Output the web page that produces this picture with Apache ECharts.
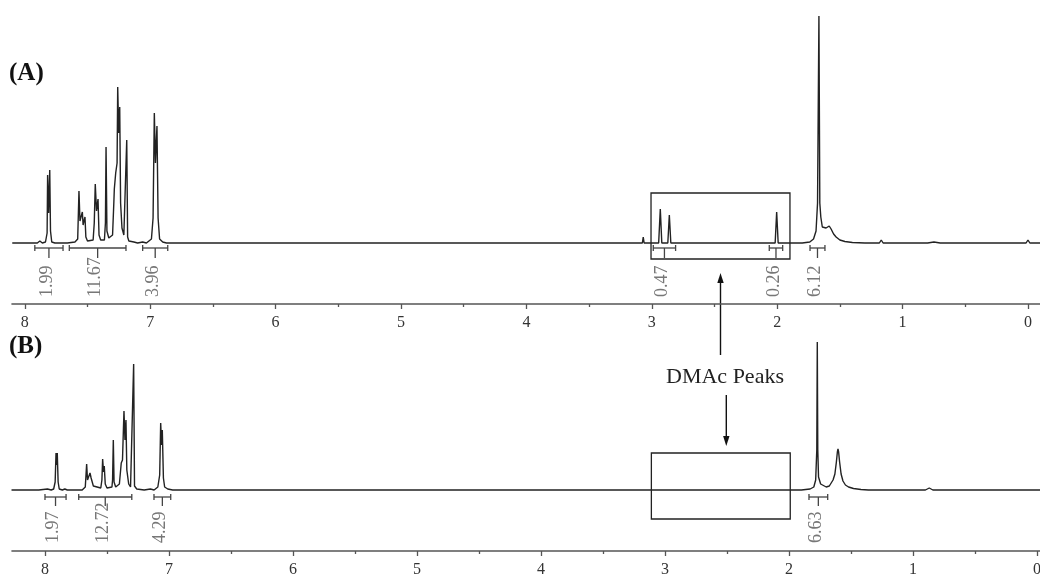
<!DOCTYPE html>
<html>
<head>
<meta charset="utf-8">
<script src="https://cdn.jsdelivr.net/npm/echarts@6/dist/echarts.min.js"></script>
<style>
  html, body { margin: 0; padding: 0; background: #fff; }
  #nmr { width: 1040px; height: 578px; }
</style>
</head>
<body>
<div id="nmr"></div>
<script>
// ppm tick values (both panels)
var majorTicks = [0, 1, 2, 3, 4, 5, 6, 7, 8];
var minorTicks = [0.5, 1.5, 2.5, 3.5, 4.5, 5.5, 6.5, 7.5];

// spectrum (A): [ppm, intensity]
var specA = [
  [8.10, 0], [7.90, 0], [7.88, 2], [7.86, 0],
  [7.835, 1], [7.822, 10], [7.818, 68], [7.810, 30], [7.801, 73], [7.795, 12], [7.785, 1],
  [7.76, 0], [7.745, 2], [7.73, 0],
  [7.66, 0], [7.60, 1], [7.578, 4], [7.568, 52], [7.560, 22], [7.552, 20], [7.545, 24], [7.541, 31],
  [7.535, 18], [7.528, 22], [7.520, 26], [7.513, 6], [7.50, 2],
  [7.455, 3], [7.446, 20], [7.438, 59], [7.428, 32], [7.416, 44], [7.408, 8], [7.395, 3],
  [7.365, 3], [7.357, 20], [7.352, 96], [7.345, 12], [7.33, 5],
  [7.30, 8], [7.290, 40], [7.286, 54], [7.275, 70], [7.264, 80], [7.259, 156], [7.251, 110],
  [7.243, 136], [7.236, 40], [7.225, 15], [7.21, 8],
  [7.196, 10], [7.187, 103], [7.180, 6], [7.17, 2],
  [7.13, 1], [7.10, 0], [7.06, 1], [7.03, 0],
  [6.99, 4], [6.977, 25], [6.967, 130], [6.958, 80], [6.946, 117], [6.937, 25], [6.925, 4], [6.90, 1], [6.87, 0],
  [3.12, 0], [3.075, 0], [3.068, 6], [3.061, 0],
  [2.945, 0], [2.932, 34], [2.920, 0], [2.872, 0], [2.860, 28], [2.848, 0],
  [2.016, 0], [2.004, 31], [1.992, 0],
  [1.80, 0], [1.74, 1], [1.71, 4], [1.69, 12], [1.678, 40], [1.667, 227], [1.660, 40],
  [1.652, 26], [1.640, 16], [1.625, 14], [1.610, 15], [1.595, 17], [1.585, 17], [1.57, 14],
  [1.55, 9], [1.53, 6], [1.50, 3], [1.46, 1.5], [1.40, 0.5], [1.30, 0],
  [1.185, 0], [1.17, 3], [1.155, 0],
  [0.80, 0], [0.75, 1], [0.70, 0],
  [0.015, 0], [0.0, 3], [-0.015, 0], [-0.1, 0]
];

// spectrum (B): [ppm, intensity]
var specB = [
  [8.27, 0], [8.05, 0], [7.98, 1], [7.95, 0],
  [7.93, 1], [7.918, 8], [7.911, 37], [7.906, 25], [7.901, 37], [7.894, 8], [7.885, 1],
  [7.86, 0], [7.84, 1], [7.82, 0],
  [7.70, 0], [7.675, 3], [7.664, 26], [7.657, 10], [7.648, 12], [7.637, 17], [7.628, 12],
  [7.618, 14], [7.610, 4], [7.595, 2],
  [7.55, 2], [7.541, 10], [7.535, 31], [7.528, 18], [7.522, 24], [7.514, 6], [7.50, 2],
  [7.46, 3], [7.455, 10], [7.449, 50], [7.443, 8], [7.43, 3],
  [7.40, 6], [7.385, 27], [7.375, 30], [7.363, 79], [7.355, 50], [7.347, 70], [7.340, 20], [7.325, 6], [7.31, 3],
  [7.295, 5], [7.285, 126], [7.278, 4], [7.26, 1],
  [7.20, 0], [7.15, 1], [7.12, 0],
  [7.09, 3], [7.075, 15], [7.067, 67], [7.060, 45], [7.054, 60], [7.045, 12], [7.035, 3], [7.01, 1], [6.97, 0],
  [3.19, 0], [3.175, 2], [3.16, 0],
  [1.90, 0], [1.83, 1], [1.80, 3], [1.785, 10], [1.776, 40], [1.772, 148], [1.768, 40], [1.762, 13],
  [1.755, 11], [1.745, 6], [1.73, 4], [1.70, 3], [1.675, 4], [1.66, 6], [1.645, 10], [1.630, 16],
  [1.618, 28], [1.610, 38], [1.605, 41], [1.600, 38], [1.592, 28], [1.580, 16], [1.565, 9],
  [1.545, 5], [1.52, 3], [1.48, 1.5], [1.42, 0.5], [1.36, 0],
  [1.29, 0], [1.274, 2], [1.26, 0],
  [0.90, 0], [0.869, 2], [0.84, 0],
  [0.11, 0], [0.097, 1], [0.085, 0], [-0.024, 0]
];

// integrals: [from ppm, to ppm, value]
var intA = [
  [7.92, 7.695, '1.99'],
  [7.645, 7.193, '11.67'],
  [7.06, 6.86, '3.96'],
  [2.988, 2.81, '0.47'],
  [2.063, 1.956, '0.26'],
  [1.738, 1.619, '6.12']
];
var intB = [
  [8.0, 7.83, '1.97'],
  [7.728, 7.30, '12.72'],
  [7.121, 6.986, '4.29'],
  [1.839, 1.688, '6.63']
];

var serif = '"Liberation Serif", "DejaVu Serif", serif';

function integralRenderer(barOff, tickLen, textOff) {
  return function (params, api) {
    var p1 = api.coord([api.value(0), 0]);
    var p2 = api.coord([api.value(1), 0]);
    var y = p1[1] + barOff;
    var mid = (p1[0] + p2[0]) / 2;
    var c = '#444';
    return {
      type: 'group',
      children: [
        { type: 'line', shape: { x1: p1[0], y1: y, x2: p2[0], y2: y }, style: { stroke: c, lineWidth: 1.3 } },
        { type: 'line', shape: { x1: p1[0], y1: y - 3, x2: p1[0], y2: y + 3 }, style: { stroke: c, lineWidth: 1.3 } },
        { type: 'line', shape: { x1: p2[0], y1: y - 3, x2: p2[0], y2: y + 3 }, style: { stroke: c, lineWidth: 1.3 } },
        { type: 'line', shape: { x1: mid, y1: y, x2: mid, y2: y + tickLen }, style: { stroke: c, lineWidth: 1.3 } },
        {
          type: 'text', x: mid - 2, y: p1[1] + textOff, rotation: Math.PI / 2,
          style: {
            text: api.value(2), x: 0, y: 0, align: 'left', verticalAlign: 'middle',
            fill: '#777', font: '18px ' + serif
          }
        }
      ]
    };
  };
}

function xAxes(grid, min, max) {
  return [{
    type: 'value', gridIndex: grid, position: 'bottom', min: min, max: max, inverse: true,
    axisLine: { show: true, onZero: false, lineStyle: { color: '#555', width: 1.6 } },
    axisTick: { show: true, customValues: majorTicks, length: 5, lineStyle: { color: '#555', width: 1.3 } },
    axisLabel: { customValues: majorTicks, margin: 11, color: '#333', fontSize: 16, fontFamily: serif },
    splitLine: { show: false }
  }, {
    type: 'value', gridIndex: grid, position: 'bottom', offset: 0, min: min, max: max, inverse: true,
    axisLine: { show: false, onZero: false },
    axisTick: { show: true, customValues: minorTicks, length: 3, lineStyle: { color: '#555', width: 1.3 } },
    axisLabel: { show: false },
    splitLine: { show: false }
  }];
}

var boxStyle = { color: 'rgba(0,0,0,0)', borderColor: '#222', borderWidth: 1.3 };

var chart = echarts.init(document.getElementById('nmr'));
chart.setOption({
  animation: false,
  grid: [
    { left: 12, right: 0, top: 0, bottom: 274, outerBoundsMode: 'none', containLabel: false },
    { left: 12, right: 0, top: 310, bottom: 27, outerBoundsMode: 'none', containLabel: false }
  ],
  xAxis: xAxes(0, -0.096, 8.102).concat(xAxes(1, -0.024, 8.266)),
  yAxis: [
    { type: 'value', gridIndex: 0, min: -61, max: 243, show: false },
    { type: 'value', gridIndex: 1, min: -61, max: 180, show: false }
  ],
  series: [
    {
      name: 'A', type: 'line', xAxisIndex: 0, yAxisIndex: 0, data: specA,
      symbol: 'none', lineStyle: { color: '#222', width: 1.4 }, clip: false,
      markArea: {
        silent: true, label: { show: false }, itemStyle: boxStyle,
        data: [[{ xAxis: 3.006, yAxis: 50 }, { xAxis: 1.898, yAxis: -16 }]]
      }
    },
    {
      name: 'B', type: 'line', xAxisIndex: 2, yAxisIndex: 1, data: specB,
      symbol: 'none', lineStyle: { color: '#222', width: 1.4 }, clip: false,
      markArea: {
        silent: true, label: { show: false }, itemStyle: boxStyle,
        data: [[{ xAxis: 3.11, yAxis: 37 }, { xAxis: 1.99, yAxis: -29 }]]
      }
    },
    {
      type: 'custom', xAxisIndex: 0, yAxisIndex: 0, data: intA, clip: false,
      encode: { x: [0, 1] }, renderItem: integralRenderer(5, 10, 54)
    },
    {
      type: 'custom', xAxisIndex: 2, yAxisIndex: 1, data: intB, clip: false,
      encode: { x: [0, 1] }, renderItem: integralRenderer(7, 9, 53)
    }
  ],
  graphic: [
    { type: 'text', left: 9, top: 61, style: { text: '(A)', font: 'bold 25px ' + serif, fill: '#111' } },
    { type: 'text', left: 9, top: 334, style: { text: '(B)', font: 'bold 25px ' + serif, fill: '#111' } },
    { type: 'text', x: 725, y: 377, style: { text: 'DMAc Peaks', font: '22px ' + serif, fill: '#222', align: 'center', verticalAlign: 'middle' } },
    { type: 'line', shape: { x1: 720.5, y1: 355, x2: 720.5, y2: 280 }, style: { stroke: '#111', lineWidth: 1.4 } },
    { type: 'polygon', shape: { points: [[720.5, 273], [717.3, 283], [723.7, 283]] }, style: { fill: '#111' } },
    { type: 'line', shape: { x1: 726.3, y1: 395, x2: 726.3, y2: 440 }, style: { stroke: '#111', lineWidth: 1.4 } },
    { type: 'polygon', shape: { points: [[726.3, 446], [723.1, 436], [729.5, 436]] }, style: { fill: '#111' } }
  ]
});
</script>
</body>
</html>
